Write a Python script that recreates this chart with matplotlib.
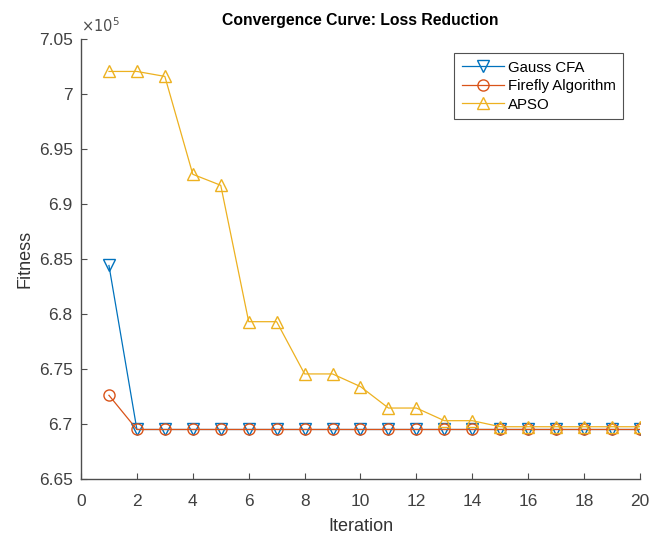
import matplotlib
matplotlib.use("Agg")
import matplotlib.pyplot as plt
from matplotlib.ticker import FuncFormatter

plt.rcParams['font.family'] = ['Liberation Sans', 'DejaVu Sans']

iterations = list(range(1, 21))
gauss_cfa = [684410] + [669500] * 19
firefly = [672610] + [669500] * 19
apso = [702050, 702050, 701600, 692700, 691700, 679300, 679300, 674550, 674550,
        673400, 671450, 671450, 670300, 670300, 669750, 669750, 669750, 669750,
        669750, 669750]

series_names = ["Gauss CFA", "Firefly Algorithm", "APSO"]
colors = ["#0072BD", "#D95319", "#EDB120"]
markers = ["v", "o", "^"]

xticks = list(range(0, 21, 2))
yticks = [665000, 670000, 675000, 680000, 685000, 690000, 695000, 700000, 705000]

fig = plt.figure(figsize=(6.65, 5.35), dpi=100)
ax = fig.add_axes([0.1218, 0.1047, 0.8406, 0.8224])

for vals, name, c, m in zip([gauss_cfa, firefly, apso], series_names, colors, markers):
    ax.plot(iterations, vals, color=c, marker=m, markerfacecolor='none',
            markeredgecolor=c, markersize=8, linewidth=0.9, label=name)

ax.set_xlim(0, 20)
ax.set_ylim(665000, 705000)
ax.set_xticks(xticks)
ax.set_yticks(yticks)
ax.yaxis.set_major_formatter(FuncFormatter(lambda v, p: ('%g' % round(v / 1e5, 4))))

for s in ['top', 'right']:
    ax.spines[s].set_visible(False)
for s in ['left', 'bottom']:
    ax.spines[s].set_color('#4d4d4d')
    ax.spines[s].set_linewidth(1.0)
ax.tick_params(direction='in', length=4, colors='#4d4d4d', labelcolor='#404040', labelsize=12.5)
ax.tick_params(axis='x', pad=11)
ax.tick_params(axis='y', pad=6)

ax.set_xlabel("Iteration", fontsize=13, color='#333333', labelpad=6)
ax.set_ylabel("Fitness", fontsize=13, color='#333333', labelpad=4)
ax.set_title("Convergence Curve: Loss Reduction", fontsize=11.3, fontweight='bold', pad=10)
ax.text(0.0, 1.01, r"$\times10^5$", transform=ax.transAxes, fontsize=10.5, color='#4d4d4d',
        ha='left', va='bottom')

leg = ax.legend(loc='upper right', bbox_to_anchor=(0.9696, 0.968), borderaxespad=0,
                fontsize=10.8, frameon=True, fancybox=False, borderpad=0.5,
                handlelength=2.8, handletextpad=0.25, labelspacing=0.3)
leg.get_frame().set_edgecolor('#262626')
leg.get_frame().set_linewidth(0.8)

fig.savefig("out.png", dpi=100)
